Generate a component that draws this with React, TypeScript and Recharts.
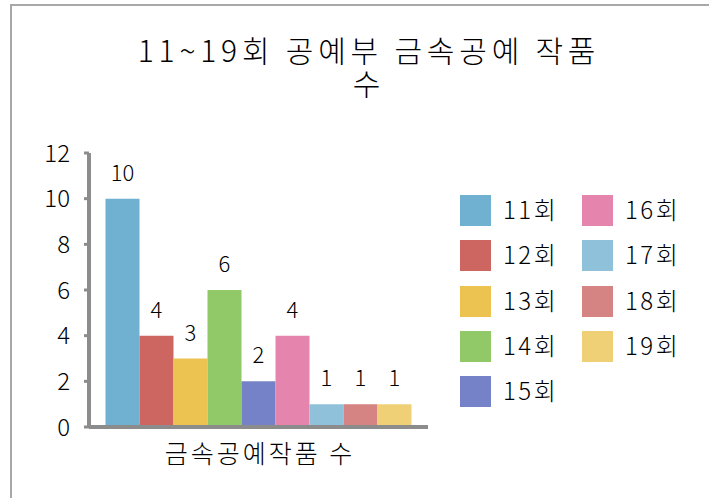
import React from 'react';
import { BarChart, Bar, XAxis, YAxis, Legend, LabelList } from 'recharts';

const categories = ['금속공예작품 수'];
const seriesNames = ['11회', '12회', '13회', '14회', '15회', '16회', '17회', '18회', '19회'];
const seriesValues = [10, 4, 3, 6, 2, 4, 1, 1, 1];
const seriesColors = ['#70B0D1', '#CD6561', '#ECC351', '#91C968', '#7582C8', '#E585AE', '#8FC1DA', '#D68483', '#F0D077'];
const yTicks = [0, 2, 4, 6, 8, 10, 12];
const titleLines = ['11~19회 공예부 금속공예 작품', '수'];

const data = categories.map((c) => {
  const row: Record<string, string | number> = { name: c };
  seriesNames.forEach((_, i) => {
    row['s' + i] = seriesValues[i];
  });
  return row;
});

const FONT = '"Noto Sans CJK KR", "Noto Sans", sans-serif';
const AXIS = '#8c8c8c';

const LegendContent = (props: any) => {
  const payload = props.payload || [];
  return (
    <div style={{ position: 'relative', width: 0, height: 0 }}>
      {payload.map((entry: any, i: number) => {
        const col = i < 5 ? 0 : 1;
        const row = i < 5 ? i : i - 5;
        const left = col * 122;
        const top = row * 45.3;
        return (
          <div key={i} style={{ position: 'absolute', left, top, width: 120, height: 31 }}>
            <div style={{ position: 'absolute', left: 0, top: 0, width: 31, height: 31, background: entry.color }} />
            <div
              style={{
                position: 'absolute',
                left: 43,
                top: -2,
                height: 31,
                lineHeight: '31px',
                fontSize: 24,
                fontWeight: 300,
                letterSpacing: 2.5,
                fontFamily: FONT,
                color: '#000',
                whiteSpace: 'nowrap',
              }}
            >
              {entry.value}
            </div>
          </div>
        );
      })}
    </div>
  );
};

export default function App() {
  return (
    <div style={{ position: 'absolute', left: 0, top: 0, width: 709, height: 498, overflow: 'hidden', background: '#fff' }}>
      <div
        style={{
          position: 'absolute',
          left: 10,
          top: 4,
          width: 800,
          height: 600,
          borderLeft: '2px solid #a8a8a8',
          borderTop: '2px solid #a8a8a8',
        }}
      />
      <div
        style={{
          position: 'absolute',
          left: 4,
          top: 33,
          width: 730,
          textAlign: 'center',
          fontFamily: FONT,
          fontSize: 30,
          fontWeight: 300,
          letterSpacing: 4.8,
          lineHeight: '33px',
          color: '#000',
        }}
      >
        {titleLines.map((t, i) => (
          <div key={i}>{t}</div>
        ))}
      </div>
      <div style={{ position: 'absolute', left: 0, top: 0 }}>
        <BarChart
          width={709}
          height={498}
          data={data}
          margin={{ top: 153, right: 281, bottom: 31, left: 29 }}
          barCategoryGap={16.5}
          barGap={0}
        >
          <XAxis
            dataKey="name"
            height={40}
            axisLine={{ stroke: AXIS, strokeWidth: 4 }}
            tickLine={false}
            tickSize={0}
            tickMargin={18}
            tick={{ fill: '#000', fontSize: 25, fontWeight: 300, fontFamily: FONT, letterSpacing: 3, dx: 1.5 }}
          />
          <YAxis
            width={60}
            domain={[0, 12]}
            ticks={yTicks}
            interval={0}
            axisLine={{ stroke: AXIS, strokeWidth: 4 }}
            tickLine={{ stroke: AXIS, strokeWidth: 3 }}
            tickSize={5}
            tickMargin={14}
            tick={{ fill: '#000', fontSize: 24, fontWeight: 300, fontFamily: FONT }}
          />
          <Legend
            content={<LegendContent />}
            wrapperStyle={{ position: 'absolute', left: 460, top: 195, width: 0, height: 0, overflow: 'visible' }}
          />
          {seriesNames.map((n, i) => (
            <Bar key={n} dataKey={'s' + i} name={n} fill={seriesColors[i]} isAnimationActive={false}>
              <LabelList dataKey={'s' + i} position="top" offset={18} fill="#000" fontSize={22} fontWeight={300} fontFamily={FONT} />
            </Bar>
          ))}
        </BarChart>
      </div>
    </div>
  );
}
